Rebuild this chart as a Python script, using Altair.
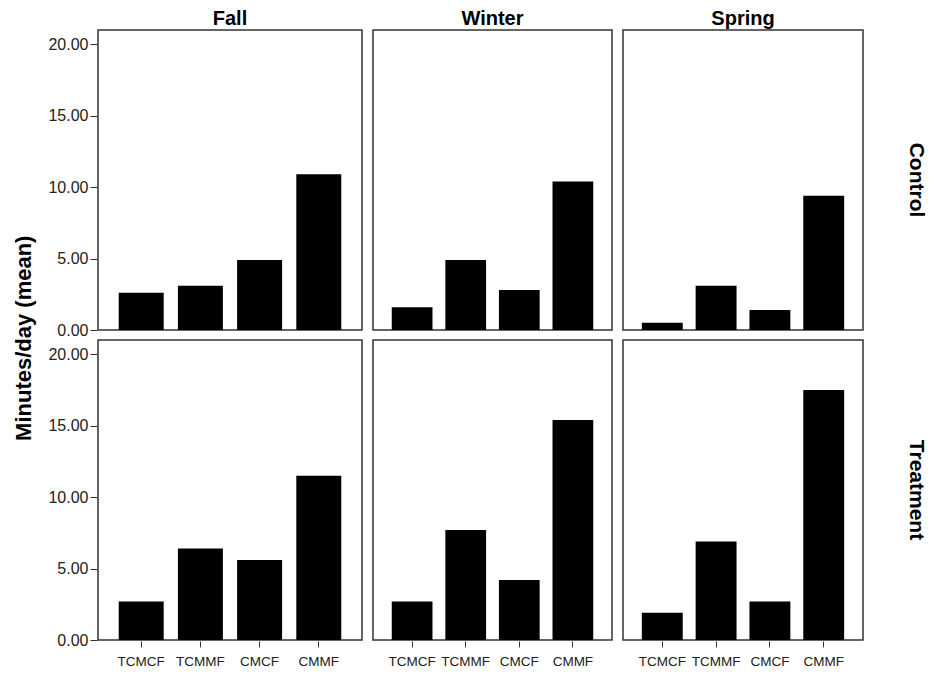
import altair as alt
import pandas as pd

seasons = ["Fall", "Winter", "Spring"]
groups = ["Control", "Treatment"]
conditions = ["TCMCF", "TCMMF", "CMCF", "CMMF"]

control_fall = [2.6, 3.1, 4.9, 10.9]
control_winter = [1.6, 4.9, 2.8, 10.4]
control_spring = [0.5, 3.1, 1.4, 9.4]
treatment_fall = [2.7, 6.4, 5.6, 11.5]
treatment_winter = [2.7, 7.7, 4.2, 15.4]
treatment_spring = [1.9, 6.9, 2.7, 17.5]

y_ticks = [0, 5, 10, 15, 20]
y_title = "Minutes/day (mean)"
panel_widths = [264, 239, 240]

values = {
    ("Control", "Fall"): control_fall,
    ("Control", "Winter"): control_winter,
    ("Control", "Spring"): control_spring,
    ("Treatment", "Fall"): treatment_fall,
    ("Treatment", "Winter"): treatment_winter,
    ("Treatment", "Spring"): treatment_spring,
}

rows = []
for (g, s), vals in values.items():
    for c, v in zip(conditions, vals):
        rows.append({"group": g, "season": s, "condition": c, "value": v})
df = pd.DataFrame(rows)

FONT = "Liberation Sans"


def panel(season, width, first, last):
    sub = df[df["season"] == season]
    if first:
        yaxis = alt.Axis(
            title=None, values=y_ticks, format=".2f", grid=False,
            domain=False, tickSize=7, tickColor="#333", labelFontSize=16,
            labelColor="#222", labelFont=FONT, labelPadding=2,
        )
    else:
        yaxis = None
    base = alt.Chart(sub).mark_bar(color="black").encode(
        x=alt.X(
            "condition:N", sort=conditions,
            scale=alt.Scale(paddingInner=0.24, paddingOuter=0.35),
            axis=alt.Axis(
                title=None, labelAngle=0, domain=False, tickSize=6,
                tickColor="#333", labelFontSize=13.5, labelColor="#222",
                labelFont=FONT, labelPadding=7,
            ),
        ),
        y=alt.Y("value:Q", scale=alt.Scale(domain=[0, 21], nice=False), axis=yaxis),
    ).properties(width=width, height=300)
    return base.facet(
        row=alt.Row(
            "group:N", sort=groups,
            header=alt.Header(
                title=None, labels=last, labelOrient="right", labelAngle=90,
                labelFontSize=21, labelFontWeight="bold", labelFont=FONT,
                labelColor="black", labelPadding=42,
            ),
        ),
        column=alt.Column(
            "season:N",
            header=alt.Header(
                title=None, labelOrient="top", labelFontSize=20,
                labelFontWeight="bold", labelFont=FONT, labelColor="black",
                labelPadding=0,
            ),
        ),
        spacing={"row": 8, "column": 10},
    )


charts = [
    panel(s, w, i == 0, i == len(seasons) - 1)
    for i, (s, w) in enumerate(zip(seasons, panel_widths))
]

chart = alt.hconcat(*charts, spacing=9).properties(
    title=alt.TitleParams(
        y_title, orient="left", anchor="middle", fontSize=22,
        fontWeight="bold", font=FONT, color="black", offset=12,
    ),
    padding={"left": 4, "top": 1, "right": 2, "bottom": 0},
).configure_view(stroke="#333", strokeWidth=1.5)

chart.save("out.html", embed_options={"renderer": "svg", "actions": False})
